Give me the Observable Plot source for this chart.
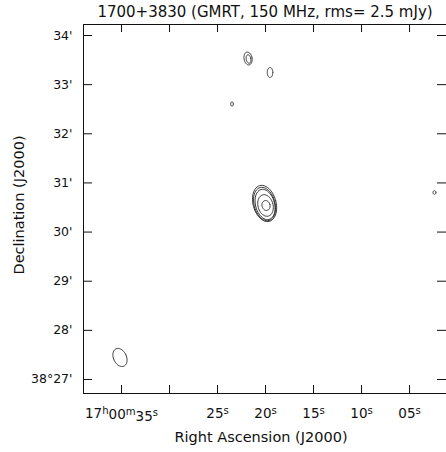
<!DOCTYPE html>
<html>
<head>
<meta charset="utf-8">
<script src="https://cdn.jsdelivr.net/npm/d3@7"></script>
<script src="https://cdn.jsdelivr.net/npm/@observablehq/plot@0.6"></script>
<style>
  html, body { margin: 0; padding: 0; background: #fff; }
  svg { display: block; }
</style>
</head>
<body>
<div id="chart"></div>
<script>
// ---- Data (RA seconds past 17h00m, Dec arcmin past 38°) ----
const titleText = "1700+3830 (GMRT, 150 MHz, rms= 2.5 mJy)";
const xTitle = "Right Ascension (J2000)";
const yTitle = "Declination (J2000)";

const xTicks = [35, 30, 25, 20, 15, 10, 5];
const xLabelTicks = [35, 25, 20, 15, 10, 5];
const xLabels = ["17\u02B000\u1D5035\u02E2", "25\u02E2", "20\u02E2", "15\u02E2", "10\u02E2", "05\u02E2"];
const yTicks = [27, 28, 29, 30, 31, 32, 33, 34];
const yLabels = ["38°27'", "28'", "29'", "30'", "31'", "32'", "33'", "34'"];

// contour ellipses: centre RA (s), centre Dec (arcmin), semi-minor & semi-major (arcsec), tilt (deg)
const cRA    = [20.10, 20.10, 20.05, 20.00, 19.95, 21.82, 21.77, 19.53, 23.49, 2.40, 35.16];
const cDec   = [30.582, 30.571, 30.561, 30.541, 30.541, 33.532, 33.522, 33.247, 32.606, 30.805, 27.448];
const cMinor = [14.0, 12.8, 11.6, 9.2, 4.9, 4.9, 2.8, 3.4, 1.6, 1.8, 7.9];
const cMajor = [22.6, 20.8, 18.9, 13.4, 6.1, 7.9, 5.2, 6.1, 2.7, 2.2, 11.6];
const cTilt  = [15, 15, 15, 15, 15, 10, 10, 0, 0, 0, 25];

const xDomain = [38.96, 1.15];
const yDomain = [26.715, 34.224];

// build closed outlines for each ellipse
const arcsecPerSecRA = 11.72;
const outline = [];
cRA.forEach((ra, i) => {
  const th = cTilt[i] * Math.PI / 180;
  for (let k = 0; k <= 48; k++) {
    const t = (k / 48) * 2 * Math.PI;
    const ex = cMinor[i] * Math.cos(t), ey = cMajor[i] * Math.sin(t);
    const X = ex * Math.cos(th) - ey * Math.sin(th);
    const Y = ex * Math.sin(th) + ey * Math.cos(th);
    outline.push({id: i, ra: ra - X / arcsecPerSecRA, dec: cDec[i] + Y / 60});
  }
});

const font = "DejaVu Sans, Verdana, sans-serif";
const ink = "#111";

const chart = Plot.plot({
  width: 446,
  height: 452,
  marginLeft: 83,
  marginRight: 0,
  marginTop: 24,
  marginBottom: 59,
  style: {background: "#fff", fontFamily: font, color: ink},
  x: {domain: xDomain, axis: null},
  y: {domain: yDomain, axis: null},
  marks: [
    // frame (left, top, bottom)
    Plot.ruleY([yDomain[0], yDomain[1]], {stroke: ink, strokeWidth: 1}),
    Plot.ruleX([xDomain[0]], {stroke: ink, strokeWidth: 1}),
    // inward ticks: bottom & top
    Plot.ruleX(xTicks, {x: d => d, y1: yDomain[0], y2: yDomain[0], insetBottom: 8, stroke: ink}),
    Plot.ruleX(xTicks, {x: d => d, y1: yDomain[1], y2: yDomain[1], insetTop: 8, stroke: ink}),
    // inward ticks: left & right
    Plot.ruleY(yTicks, {y: d => d, x1: xDomain[0], x2: xDomain[0], insetRight: -9, stroke: ink}),
    Plot.ruleY(yTicks, {y: d => d, x1: xDomain[1], x2: xDomain[1], insetLeft: -9, stroke: ink}),
    // contours
    Plot.line(outline, {x: "ra", y: "dec", z: "id", stroke: "#222", strokeWidth: 0.9, curve: "catmull-rom"}),
    // tick labels
    Plot.text(xLabelTicks, {x: d => d, text: (d, i) => xLabels[i], frameAnchor: "bottom", lineAnchor: "middle", dy: 20,
      textAnchor: "middle", fontSize: 13.5, fill: ink}),
    Plot.text(yTicks, {y: d => d, text: (d, i) => yLabels[i], frameAnchor: "left", dx: -11,
      textAnchor: "end", lineAnchor: "middle", fontSize: 12.5, fill: ink}),
    // titles
    Plot.text([titleText], {frameAnchor: "top", lineAnchor: "middle", textAnchor: "middle", dy: -12, fontSize: 15, fill: ink}),
    Plot.text([xTitle], {frameAnchor: "bottom", lineAnchor: "middle", textAnchor: "middle", dy: 44, dx: -4, fontSize: 14.5, fill: ink}),
    Plot.text([yTitle], {frameAnchor: "left", lineAnchor: "middle", textAnchor: "middle", dx: -64.5, dy: -4, rotate: -90, fontSize: 14.5, fill: ink})
  ]
});
document.getElementById("chart").appendChild(chart);

// render the h/m/s markers as proper superscripts
const supMap = {"\u02B0": "h", "\u1D50": "m", "\u02E2": "s"};
chart.querySelectorAll("text").forEach(function (node) {
  const s = node.textContent;
  if (![...s].some(ch => supMap[ch])) return;
  const sel = d3.select(node);
  sel.selectAll("*").remove();
  sel.text(null);
  let buf = "";
  let raised = false;
  const flush = () => {
    if (buf) {
      const t = sel.append("tspan").text(buf);
      if (raised) { t.attr("dy", "0.42em"); raised = false; }
      buf = "";
    }
  };
  for (const ch of s) {
    if (supMap[ch]) {
      flush();
      const t = sel.append("tspan").attr("font-size", "0.75em").text(supMap[ch]);
      t.attr("dy", raised ? null : "-0.42em");
      raised = true;
    } else buf += ch;
  }
  flush();
});
</script>
</body>
</html>
